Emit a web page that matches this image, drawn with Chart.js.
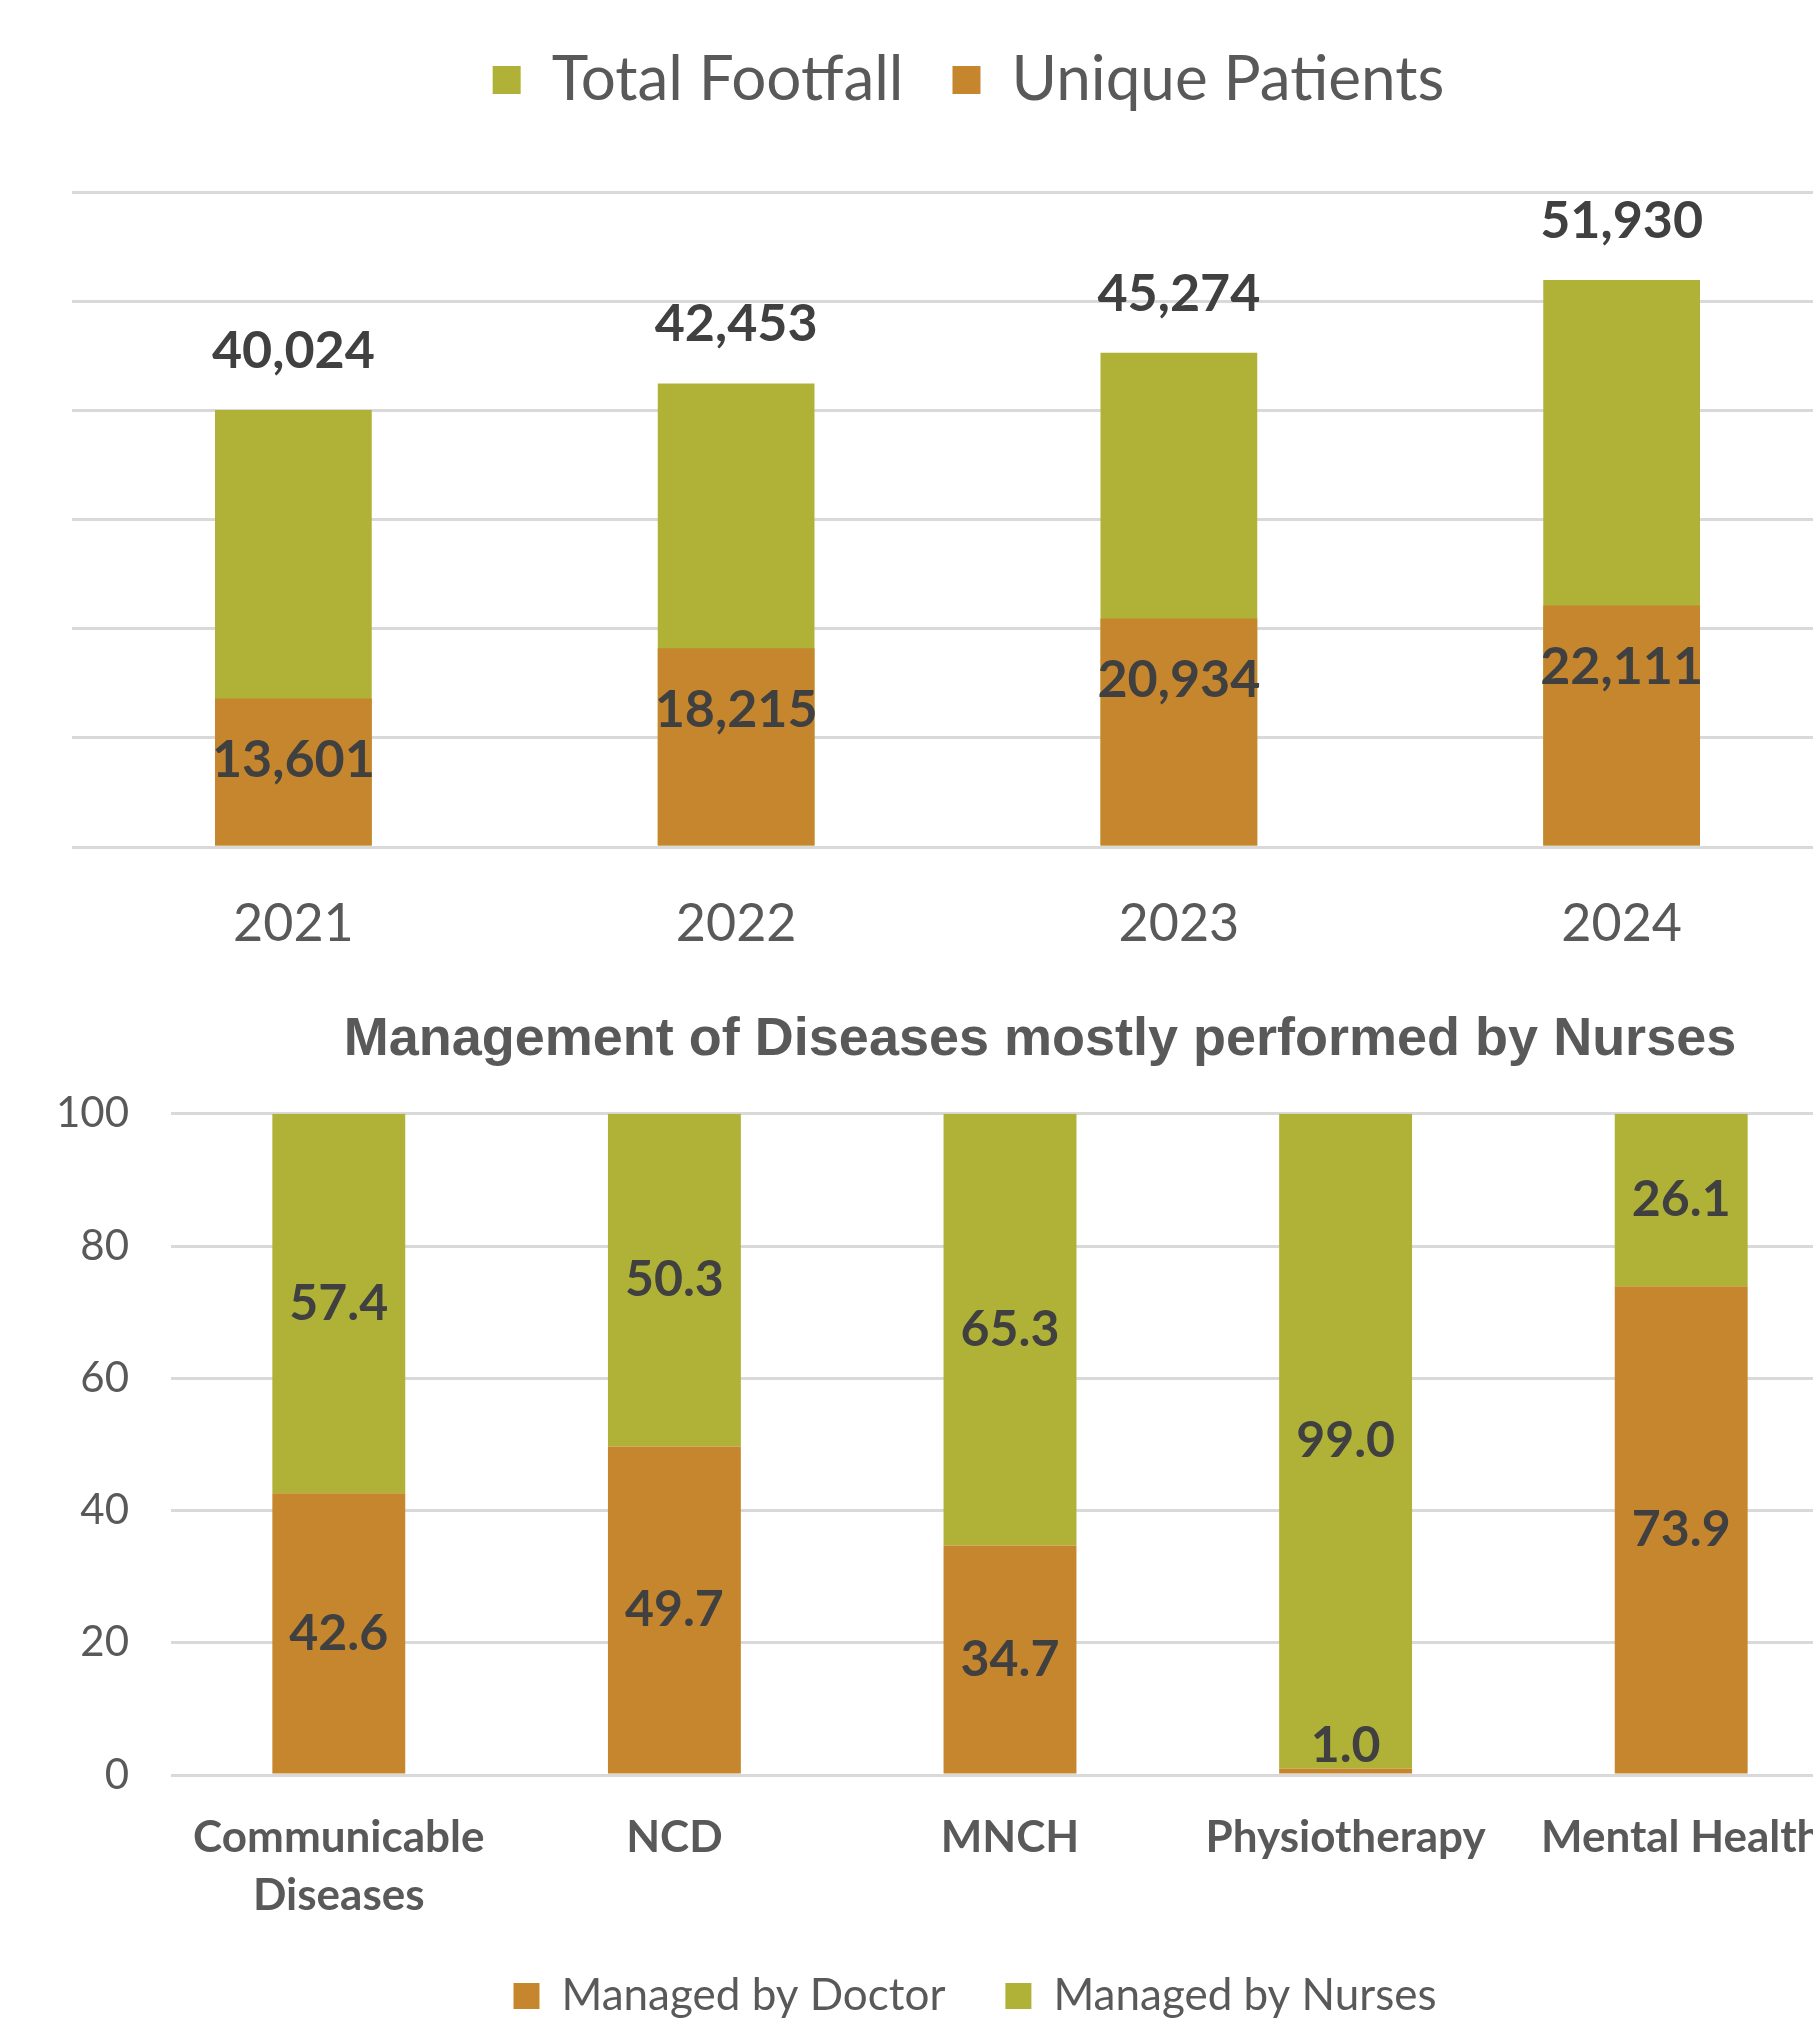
<!DOCTYPE html>
<html>
<head>
<meta charset="utf-8">
<script src="https://cdn.jsdelivr.net/npm/chart.js@4.4.1/dist/chart.umd.min.js"></script>
<style>
  html, body { margin: 0; padding: 0; background: #fff; overflow: hidden; width: 1813px; height: 2018px; }
  #top { position: absolute; left: 0; top: 0; }
  #bottom { position: absolute; left: 0; top: 980px; }
</style>
</head>
<body>
<canvas id="top" width="1936" height="980"></canvas>
<canvas id="bottom" width="2080" height="1100"></canvas>
<script>
// footfall chart
var years = ['2021', '2022', '2023', '2024'];
var totalFootfall = [40024, 42453, 45274, 51930];
var uniquePatients = [13601, 18215, 20934, 22111];

// diseases chart
var diseaseCats = [['Communicable', 'Diseases'], 'NCD', 'MNCH', 'Physiotherapy', 'Mental Health'];
var byDoctor = [42.6, 49.7, 34.7, 1.0, 73.9];
var byNurses = [57.4, 50.3, 65.3, 99.0, 26.1];

var GREEN = '#afb237';
var ORANGE = '#c6862e';
var GRID = '#d9d9d9';
var TEXT = '#595959';
var LABEL = '#404040';

Chart.defaults.font.family = 'Lato';
Chart.defaults.color = TEXT;

// draws the value labels on the bars
var barLabels = {
    id: 'barLabels',
    afterDatasetsDraw: function(chart, args, opts) {
        var ctx = chart.ctx;
        ctx.save();
        ctx.font = opts.font;
        ctx.fillStyle = opts.color;
        ctx.textAlign = 'center';
        ctx.textBaseline = 'middle';
        chart.data.datasets.forEach(function(ds, i) {
            var meta = chart.getDatasetMeta(i);
            meta.data.forEach(function(bar, j) {
                var y;
                if (opts.mode === 'center') {
                    y = Math.min((bar.y + bar.base) / 2, bar.base - opts.minGap);
                } else {
                    y = i === 0 ? bar.y - opts.above : bar.y + opts.below;
                }
                ctx.fillText(opts.format(ds.data[j]), bar.x, y);
            });
        });
        ctx.restore();
    }
};

// extra room under the legend, and a sideways nudge
var legendPos = {
    id: 'legendPos',
    beforeInit: function(chart, args, opts) {
        var fit = chart.legend.fit;
        chart.legend.fit = function() {
            fit.bind(chart.legend)();
            this.height += opts.extra || 0;
        };
    },
    afterLayout: function(chart, args, opts) {
        chart.legend.left += opts.dx || 0;
        chart.legend.right += opts.dx || 0;
    }
};

var byIndex = function(a, b) { return a.datasetIndex - b.datasetIndex; };

new Chart(document.getElementById('top'), {
    type: 'bar',
    plugins: [barLabels, legendPos],
    data: {
        labels: years,
        datasets: [
            { label: 'Total Footfall', data: totalFootfall, backgroundColor: GREEN, order: 2 },
            { label: 'Unique Patients', data: uniquePatients, backgroundColor: ORANGE, order: 1 }
        ]
    },
    options: {
        responsive: false,
        animation: false,
        devicePixelRatio: 1,
        layout: { padding: { top: 0, right: 93, left: 0, bottom: 0 } },
        datasets: { bar: { grouped: false, barPercentage: 0.354, categoryPercentage: 1 } },
        scales: {
            x: {
                grid: { display: false },
                border: { display: false },
                ticks: { font: { size: 52 }, color: TEXT, padding: 38 },
                afterFit: function(s) { s.height = 133; }
            },
            y: {
                min: 0, max: 60000,
                ticks: { display: false, stepSize: 10000 },
                border: { display: false },
                grid: { color: GRID, lineWidth: 3, drawTicks: false },
                afterFit: function(s) { s.width = 72; }
            }
        },
        plugins: {
            legend: {
                position: 'top',
                labels: { font: { size: 62 }, color: TEXT, boxWidth: 28, boxHeight: 28, padding: 49, sort: byIndex }
            },
            legendPos: { extra: 71, dx: 47 },
            tooltip: { enabled: false },
            barLabels: {
                mode: 'ends',
                font: 'bold 52px Lato',
                color: LABEL,
                above: 59,
                below: 62,
                format: function(v) { return v.toLocaleString('en-US'); }
            }
        }
    }
});

new Chart(document.getElementById('bottom'), {
    type: 'bar',
    plugins: [barLabels, legendPos],
    data: {
        labels: diseaseCats,
        datasets: [
            { label: 'Managed by Doctor', data: byDoctor, backgroundColor: ORANGE },
            { label: 'Managed by Nurses', data: byNurses, backgroundColor: GREEN }
        ]
    },
    options: {
        responsive: false,
        animation: false,
        devicePixelRatio: 1,
        layout: { padding: { top: 0, right: 0, left: 0, bottom: 52 } },
        datasets: { bar: { barPercentage: 0.396, categoryPercentage: 1 } },
        scales: {
            x: {
                stacked: true,
                grid: { display: false },
                border: { display: false },
                ticks: { font: { size: 44, weight: 'bold', lineHeight: 1.32 }, color: TEXT, padding: 26 },
                afterFit: function(s) { s.height = 139; }
            },
            y: {
                stacked: true,
                min: 0, max: 100,
                ticks: { stepSize: 20, font: { size: 42 }, color: TEXT, padding: 42 },
                border: { display: false },
                grid: { color: GRID, lineWidth: 3, drawTicks: false },
                afterFit: function(s) { s.width = 171; }
            },
            // empty right-hand space so the title sits where it does in the original
            yRight: {
                position: 'right',
                min: 0, max: 100,
                ticks: { display: false },
                grid: { display: false },
                border: { display: false },
                afterFit: function(s) { s.width = 231; }
            }
        },
        plugins: {
            title: {
                display: true,
                text: 'Management of Diseases mostly performed by Nurses',
                font: { family: 'Liberation Sans', size: 54, weight: 'bold' },
                color: TEXT,
                padding: { top: 28, bottom: 41 }
            },
            legend: {
                position: 'bottom',
                labels: { font: { size: 44 }, color: TEXT, boxWidth: 26, boxHeight: 26, padding: 60 }
            },
            legendPos: { extra: 0, dx: -65 },
            tooltip: { enabled: false },
            barLabels: {
                mode: 'center',
                font: 'bold 50px Lato',
                color: LABEL,
                minGap: 28,
                format: function(v) { return v.toFixed(1); }
            }
        }
    }
});
</script>
</body>
</html>
